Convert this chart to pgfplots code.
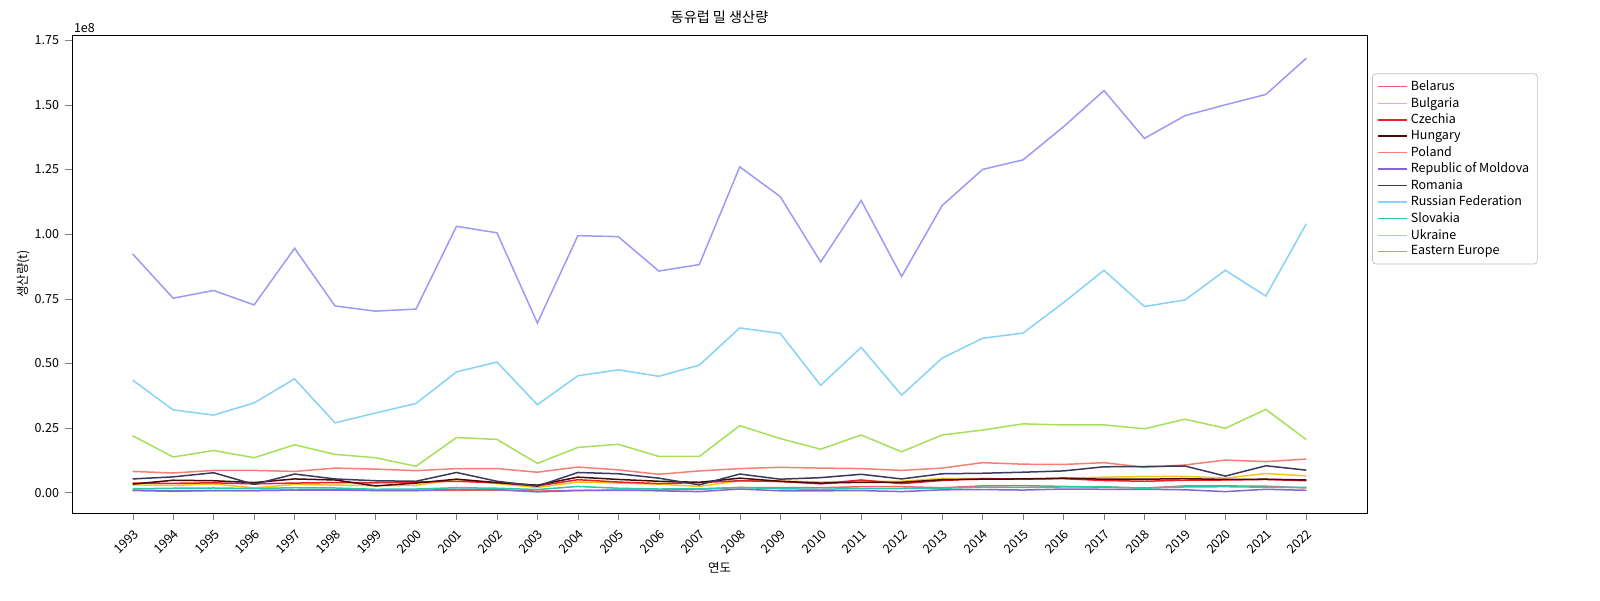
\documentclass[border=0pt]{standalone}
\usepackage{pgfplots}
\pgfplotsset{compat=1.18}
\usepackage{fontspec}
\setmainfont{Noto Sans CJK KR}
\definecolor{cBel}{HTML}{F0606A}
\definecolor{cBul}{HTML}{F5C518}
\definecolor{cCze}{HTML}{E8222A}
\definecolor{cHun}{HTML}{4A0A0A}
\definecolor{cPol}{HTML}{F47F72}
\definecolor{cMol}{HTML}{8066D8}
\definecolor{cRom}{HTML}{3A3A5A}
\definecolor{cRus}{HTML}{87D3F8}
\definecolor{cSlo}{HTML}{2AC9A8}
\definecolor{cUkr}{HTML}{A6E05A}
\definecolor{cEE}{HTML}{9D99F5}
\begin{document}
\begin{tikzpicture}
\useasboundingbox (-43.2pt,-52.2pt) rectangle (916.8pt,308pt);
\begin{axis}[
at={(0,0)}, anchor=south west,
scale only axis, width=777pt, height=287pt,
xmin=1991.5, xmax=2023.5, ymin=-8, ymax=177,
tick pos=left, tick align=outside,
xtick={1993,...,2022}, xticklabel style={rotate=45, anchor=north east, font=\fontsize{7.5}{8}\selectfont},
x tick label style={/pgf/number format/1000 sep={}, /pgf/number format/assume math mode=true},
ytick={0,25,50,75,100,125,150,175},
yticklabels={0.00,0.25,0.50,0.75,1.00,1.25,1.50,1.75},
yticklabel style={font=\fontsize{7.5}{8}\selectfont},
title={동유럽 밀 생산량}, title style={font=\fontsize{8.5}{9}\selectfont, yshift=-3pt},
xlabel={연도}, ylabel={생산량(t)},
label style={font=\fontsize{7.5}{8}\selectfont},
xlabel style={yshift=4pt}, ylabel style={yshift=-4pt},
legend style={at={(1.004,0.72)}, anchor=west, font=\fontsize{7.5}{8}\selectfont, draw=black!25, rounded corners=2pt, row sep=-1.5pt},
legend cell align=left,
every axis plot/.append style={line width=0.9pt},
]
\addplot[cBel] coordinates {(1993,0.8)(1994,0.5)(1995,0.8)(1996,0.8)(1997,1.0)(1998,1.2)(1999,0.9)(2000,0.9)(2001,0.9)(2002,1.0)(2003,0.6)(2004,0.9)(2005,0.9)(2006,1.0)(2007,1.3)(2008,2)(2009,1.9)(2010,1.9)(2011,2.3)(2012,2.3)(2013,1.9)(2014,2.6)(2015,2.7)(2016,2.4)(2017,2.1)(2018,1.8)(2019,2.6)(2020,2.6)(2021,2.5)(2022,1.8)};
\addlegendentry{Belarus}
\addplot[cBul] coordinates {(1993,3)(1994,2.8)(1995,3.4)(1996,1.8)(1997,3.2)(1998,2.9)(1999,2.7)(2000,2.8)(2001,5.2)(2002,3.5)(2003,2)(2004,4.1)(2005,3.7)(2006,3.3)(2007,2.4)(2008,4.6)(2009,4.5)(2010,4.1)(2011,4.4)(2012,4.4)(2013,5.5)(2014,5.4)(2015,5.2)(2016,5.6)(2017,6)(2018,6.2)(2019,6.3)(2020,5.6)(2021,7.4)(2022,6.5)};
\addlegendentry{Bulgaria}
\addplot[cCze] coordinates {(1993,3.7)(1994,3.6)(1995,3.8)(1996,3.4)(1997,3.7)(1998,3.9)(1999,3.8)(2000,4.1)(2001,4.4)(2002,3.8)(2003,2.6)(2004,5)(2005,4.1)(2006,3.5)(2007,3.9)(2008,4.6)(2009,4.3)(2010,3.4)(2011,4.9)(2012,3.5)(2013,4.7)(2014,5.4)(2015,5.3)(2016,5.4)(2017,4.7)(2018,4.4)(2019,4.8)(2020,4.9)(2021,5.1)(2022,4.6)};
\addlegendentry{Czechia}
\addplot[cHun] coordinates {(1993,3.3)(1994,4.8)(1995,4.6)(1996,3.9)(1997,5.3)(1998,4.9)(1999,2.6)(2000,3.7)(2001,5.2)(2002,3.9)(2003,2.9)(2004,6)(2005,5.1)(2006,4.4)(2007,4)(2008,5.6)(2009,4.4)(2010,3.7)(2011,4)(2012,4)(2013,5)(2014,5.2)(2015,5.3)(2016,5.6)(2017,5.2)(2018,5.2)(2019,5.4)(2020,5.1)(2021,5.2)(2022,4.9)};
\addlegendentry{Hungary}
\addplot[cPol] coordinates {(1993,8.2)(1994,7.6)(1995,8.6)(1996,8.6)(1997,8.2)(1998,9.5)(1999,9.1)(2000,8.5)(2001,9.3)(2002,9.3)(2003,7.9)(2004,9.9)(2005,8.8)(2006,7.1)(2007,8.4)(2008,9.3)(2009,9.8)(2010,9.5)(2011,9.3)(2012,8.6)(2013,9.5)(2014,11.6)(2015,11)(2016,10.9)(2017,11.6)(2018,9.8)(2019,10.7)(2020,12.6)(2021,12)(2022,13)};
\addlegendentry{Poland}
\addplot[cMol] coordinates {(1993,1)(1994,0.7)(1995,0.8)(1996,0.8)(1997,1.0)(1998,1.0)(1999,0.8)(2000,0.8)(2001,1.3)(2002,1.2)(2003,0.3)(2004,0.8)(2005,1.0)(2006,0.7)(2007,0.4)(2008,1.4)(2009,0.7)(2010,0.7)(2011,0.8)(2012,0.4)(2013,1.1)(2014,1.2)(2015,1.0)(2016,1.4)(2017,1.3)(2018,1.3)(2019,1.1)(2020,0.4)(2021,1.3)(2022,0.9)};
\addlegendentry{Republic of Moldova}
\addplot[cRom] coordinates {(1993,5.3)(1994,6.1)(1995,7.7)(1996,3.2)(1997,7.2)(1998,5.3)(1999,4.6)(2000,4.4)(2001,7.8)(2002,4.4)(2003,2.5)(2004,7.8)(2005,7.3)(2006,5.6)(2007,3)(2008,7.2)(2009,5.2)(2010,5.8)(2011,7.1)(2012,5.3)(2013,7.3)(2014,7.5)(2015,7.9)(2016,8.4)(2017,10)(2018,10.1)(2019,10.3)(2020,6.4)(2021,10.4)(2022,8.7)};
\addlegendentry{Romania}
\addplot[cRus] coordinates {(1993,43.5)(1994,32)(1995,30)(1996,34.7)(1997,44)(1998,27)(1999,30.8)(2000,34.5)(2001,46.7)(2002,50.5)(2003,34)(2004,45.2)(2005,47.5)(2006,45)(2007,49.3)(2008,63.7)(2009,61.6)(2010,41.5)(2011,56.2)(2012,37.7)(2013,52)(2014,59.7)(2015,61.7)(2016,73.5)(2017,86)(2018,72)(2019,74.5)(2020,86)(2021,76)(2022,104)};
\addlegendentry{Russian Federation}
\addplot[cSlo] coordinates {(1993,1.5)(1994,1.7)(1995,1.8)(1996,1.6)(1997,1.9)(1998,1.8)(1999,1.3)(2000,1.4)(2001,1.9)(2002,1.7)(2003,1.2)(2004,2.4)(2005,1.7)(2006,1.4)(2007,1.5)(2008,2)(2009,1.5)(2010,1.3)(2011,1.6)(2012,1.6)(2013,1.7)(2014,2.1)(2015,2)(2016,2.2)(2017,2.3)(2018,1.7)(2019,2.2)(2020,2.3)(2021,2.1)(2022,2)};
\addlegendentry{Slovakia}
\addplot[cUkr] coordinates {(1993,22)(1994,13.8)(1995,16.3)(1996,13.5)(1997,18.5)(1998,14.8)(1999,13.5)(2000,10.2)(2001,21.3)(2002,20.6)(2003,11.3)(2004,17.5)(2005,18.7)(2006,14)(2007,14)(2008,25.9)(2009,20.9)(2010,16.8)(2011,22.3)(2012,15.8)(2013,22.3)(2014,24.2)(2015,26.6)(2016,26.2)(2017,26.2)(2018,24.7)(2019,28.4)(2020,24.9)(2021,32.2)(2022,20.5)};
\addlegendentry{Ukraine}
\addplot[cEE] coordinates {(1993,92.3)(1994,75.2)(1995,78.2)(1996,72.6)(1997,94.5)(1998,72.2)(1999,70.2)(2000,71.0)(2001,103)(2002,100.5)(2003,65.6)(2004,99.4)(2005,99)(2006,85.7)(2007,88.2)(2008,126)(2009,114.5)(2010,89.2)(2011,113)(2012,83.6)(2013,111)(2014,125)(2015,128.7)(2016,141.5)(2017,155.5)(2018,137)(2019,145.8)(2020,150)(2021,154)(2022,168)};
\addlegendentry{Eastern Europe}
\end{axis}
\node[anchor=south west, font=\fontsize{7.5}{8}\selectfont, inner sep=1pt] at (0pt,287pt) {1e8};
\end{tikzpicture}
\end{document}
